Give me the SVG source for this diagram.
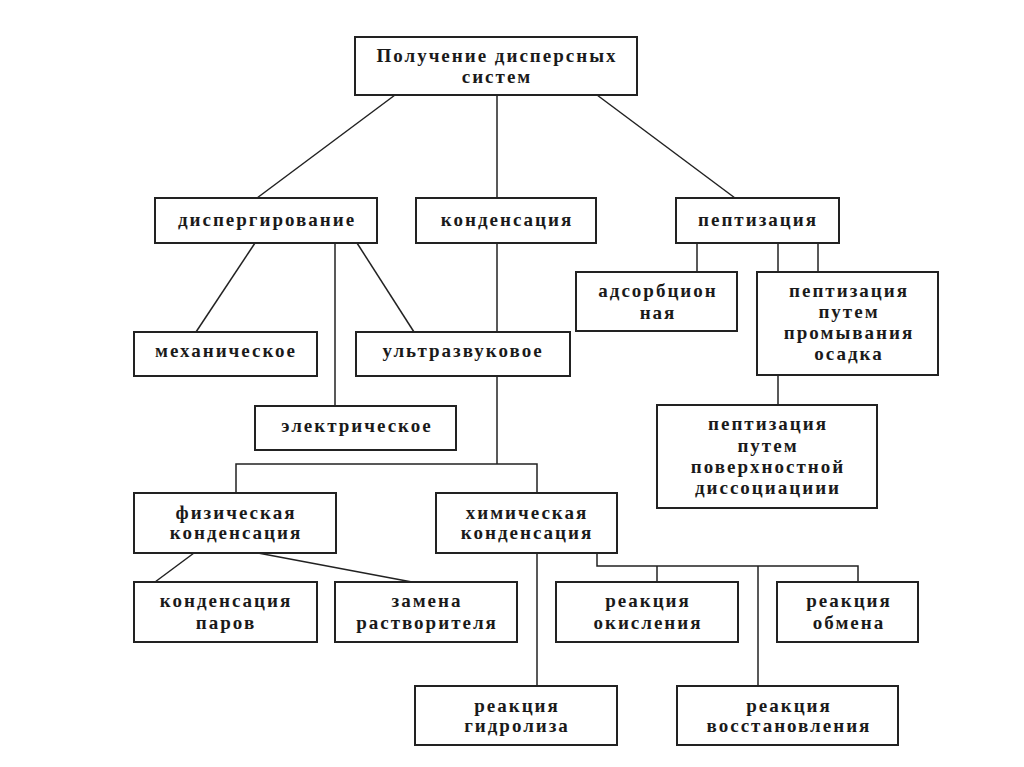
<svg xmlns="http://www.w3.org/2000/svg" width="1024" height="767" viewBox="0 0 1024 767">
<style>
.b{fill:#fff;stroke:#222;stroke-width:2}
.c{fill:none;stroke:#222;stroke-width:1.5}
text{font-family:"Liberation Serif","Times New Roman",serif;font-size:19px;font-weight:bold;fill:#1a1a1a;text-anchor:middle;letter-spacing:2px;dominant-baseline:central}
</style>
<rect width="1024" height="767" fill="#fff"/>
<g id="connectors">
<line class="c" x1="395" y1="95" x2="257" y2="198"/>
<line class="c" x1="497" y1="95" x2="497" y2="198"/>
<line class="c" x1="597" y1="95" x2="735" y2="198"/>
<line class="c" x1="255" y1="243" x2="196" y2="332"/>
<line class="c" x1="335" y1="243" x2="335" y2="406"/>
<line class="c" x1="357" y1="243" x2="414" y2="332"/>
<line class="c" x1="497" y1="243" x2="497" y2="332"/>
<polyline class="c" points="497,376 497,464"/>
<polyline class="c" points="236,493 236,464 537,464 537,493"/>
<line class="c" x1="697" y1="243" x2="697" y2="272"/>
<line class="c" x1="778" y1="243" x2="778" y2="272"/>
<line class="c" x1="818" y1="243" x2="818" y2="272"/>
<line class="c" x1="778" y1="375" x2="778" y2="405"/>
<line class="c" x1="194" y1="553" x2="155" y2="582"/>
<line class="c" x1="258" y1="553" x2="412" y2="582"/>
<line class="c" x1="537" y1="553" x2="537" y2="686"/>
<polyline class="c" points="597,553 597,566 858,566 858,582"/>
<line class="c" x1="657" y1="566" x2="657" y2="582"/>
<line class="c" x1="758" y1="566" x2="758" y2="686"/>
</g>
<g id="root"><rect class="b" x="355" y="37" width="282" height="58"/><text x="497" y="55">Получение дисперсных</text><text x="497" y="76">систем</text></g>
<g id="disp"><rect class="b" x="155" y="198" width="222" height="45"/><text x="267" y="219">диспергирование</text></g>
<g id="cond"><rect class="b" x="416" y="198" width="180" height="45"/><text x="507" y="219">конденсация</text></g>
<g id="pept"><rect class="b" x="676" y="198" width="163" height="45"/><text x="758" y="219">пептизация</text></g>
<g id="adsorb"><rect class="b" x="576" y="272" width="161" height="59"/><text x="658" y="290">адсорбцион</text><text x="658" y="312">ная</text></g>
<g id="wash"><rect class="b" x="757" y="272" width="181" height="103"/><text x="849" y="290">пептизация</text><text x="849" y="311">путем</text><text x="849" y="332">промывания</text><text x="849" y="353">осадка</text></g>
<g id="surf"><rect class="b" x="657" y="405" width="220" height="103"/><text x="768" y="423">пептизация</text><text x="768" y="445">путем</text><text x="768" y="466">поверхностной</text><text x="768" y="487">диссоциациии</text></g>
<g id="mech"><rect class="b" x="134" y="332" width="183" height="44"/><text x="226" y="350">механическое</text></g>
<g id="ultra"><rect class="b" x="356" y="332" width="214" height="44"/><text x="463" y="350">ультразвуковое</text></g>
<g id="elec"><rect class="b" x="255" y="406" width="201" height="44"/><text x="357" y="425">электрическое</text></g>
<g id="phys"><rect class="b" x="134" y="493" width="202" height="60"/><text x="236" y="512">физическая</text><text x="236" y="532">конденсация</text></g>
<g id="chem"><rect class="b" x="436" y="493" width="181" height="60"/><text x="527" y="512">химическая</text><text x="527" y="532">конденсация</text></g>
<g id="vapor"><rect class="b" x="134" y="582" width="183" height="60"/><text x="226" y="600">конденсация</text><text x="226" y="622">паров</text></g>
<g id="solv"><rect class="b" x="335" y="582" width="182" height="60"/><text x="427" y="600">замена</text><text x="427" y="622">растворителя</text></g>
<g id="oxid"><rect class="b" x="556" y="582" width="182" height="60"/><text x="648" y="600">реакция</text><text x="648" y="622">окисления</text></g>
<g id="exch"><rect class="b" x="777" y="582" width="141" height="60"/><text x="849" y="600">реакция</text><text x="849" y="622">обмена</text></g>
<g id="hydro"><rect class="b" x="415" y="686" width="202" height="59"/><text x="517" y="705">реакция</text><text x="517" y="725">гидролиза</text></g>
<g id="reduc"><rect class="b" x="677" y="686" width="221" height="59"/><text x="789" y="705">реакция</text><text x="789" y="725">восстановления</text></g>
</svg>
